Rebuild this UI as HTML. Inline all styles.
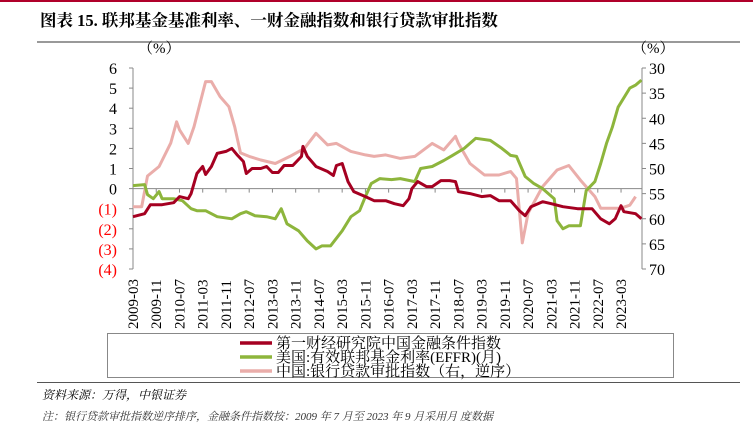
<!DOCTYPE html>
<html><head><meta charset="utf-8"><style>
body{margin:0;width:753px;height:414px;background:#fff;overflow:hidden;position:relative;font-family:"Liberation Serif","Noto Serif CJK SC",serif}
.t{position:absolute;white-space:nowrap}
</style></head><body>
<div style="position:absolute;left:0;top:0;width:753px;height:2px;background:#b0002a"></div>
<div class="t" style="left:40px;top:7px;font-size:16.5px;font-weight:bold;font-family:'Liberation Serif','Noto Serif CJK SC',serif">图表 15. 联邦基金基准利率、一财金融指数和银行贷款审批指数</div>
<div style="position:absolute;left:37px;top:41px;width:703px;height:2px;background:#999"></div>
<svg id="ch" width="753" height="414" style="position:absolute;left:0;top:0"></svg>
<div class="t" style="left:42px;top:386px;font-size:12px;font-style:italic;font-family:'Liberation Serif','Noto Serif CJK SC',serif">资料来源：万得，中银证券</div>
<div class="t" style="left:42px;top:408px;font-size:11px;font-style:italic;color:#333;font-family:'Liberation Serif','Noto Serif CJK SC',serif">注：银行贷款审批指数逆序排序，金融条件指数按：2009 年 7 月至 2023 年 9 月采用月 度数据</div>
<script>
const tickLabels=["2009-03","2009-11","2010-07","2011-03","2011-11","2012-07","2013-03","2013-11","2014-07","2015-03","2015-11","2016-07","2017-03","2017-11","2018-07","2019-03","2019-11","2020-07","2021-03","2021-11","2022-07","2023-03"];
const leftTicks=[6,5,4,3,2,1,0,-1,-2,-3,-4];
const rightTicks=[30,35,40,45,50,55,60,65,70];
// months since 2009-03
const redM=[0,4,6,10,14,16,19,20,22,24,25,27,29,32,34,36,38,39,41,44,46,48,50,52,55,58,58.5,60,63,67,69,70,72,74,76,80,83,86,87,90,93,95,96,98,101,103,106,109,111,112,116,120,123,126,130,133,135,137,141,144,148,153,158,161,164,166,168,169,173,175];
const redV=[-1.4,-1.25,-0.8,-0.8,-0.7,-0.4,-0.5,-0.25,0.75,1.1,0.7,1.1,1.75,1.85,2.0,1.65,1.35,0.75,1.0,1.0,1.1,0.8,0.8,1.15,1.15,1.6,2.1,1.6,1.1,0.85,0.65,1.15,1.25,0.35,-0.15,-0.4,-0.6,-0.6,-0.6,-0.75,-0.85,-0.5,0,0.35,0.1,0.1,0.4,0.4,0.35,-0.15,-0.25,-0.4,-0.35,-0.6,-0.6,-1.1,-1.35,-0.9,-0.65,-0.75,-0.9,-1.0,-1.0,-1.5,-1.75,-1.5,-0.85,-1.15,-1.25,-1.5];
const greenM=[0,4,5,7,9,10,14,17,20,22,25,29,34,37,39,42,46,49,51,53,57,60,63,65,68,72,75,78,80,82,85,89,92,97,99,103,107,110,114,118,123,127,130,132,135,138,141,145,146,148,150,154,156,159,161,163,165,167,171,173,175];
const greenV=[0.15,0.2,-0.3,-0.5,-0.15,-0.5,-0.5,-0.6,-1.0,-1.1,-1.1,-1.4,-1.5,-1.25,-1.15,-1.35,-1.4,-1.5,-1.0,-1.75,-2.1,-2.6,-3.0,-2.85,-2.85,-2.1,-1.4,-1.1,-0.4,0.25,0.5,0.45,0.5,0.35,1.0,1.1,1.4,1.65,2.0,2.5,2.4,2.0,1.65,1.6,0.6,0.25,0.0,-0.5,-1.6,-2.0,-1.85,-1.85,-0.1,0.35,1.25,2.25,3.05,4.05,5.0,5.15,5.4];
const pinkM=[0,3,5,9,13,15,16,19,21,25,27,30,33,35,37,40,44,49,54,59,63,67,70,75,80,83,87,92,97,100,103,107,111,112,116,121,126,130,132,134,136,141,146,150,154,159,161,164,168,171,173];
const pinkV=[57.6,57.6,51.5,49.6,44.9,40.7,42.3,45,41.7,32.7,32.7,35.7,37.7,41.7,46.9,47.6,48.3,49,47.6,46,43,45.3,45,46.6,47.3,47.6,47.3,48,47.6,46.3,45,46.3,43.6,45,49,51.3,51.3,50.6,52,64.8,58.9,53.6,50.3,49.4,52.3,55.6,57.9,57.9,57.9,57.3,55.6];
const X0=133,X1=642,YT=68,YB=269;
const xs=m=>X0+m*2.905;
const yl=v=>YT+(6-v)*(YB-YT)/10;
const yr=v=>YT+(v-30)*(YB-YT)/40;
const svg=document.getElementById('ch');const NS='http://www.w3.org/2000/svg';
function mk(t,a,p){const e=document.createElementNS(NS,t);for(const k in a)e.setAttribute(k,a[k]);(p||svg).appendChild(e);return e;}
let e;
e=mk('line',{x1:X0,y1:YT,x2:X0,y2:YB,stroke:'#888'});
e=mk('line',{x1:X1,y1:YT,x2:X1,y2:YB,stroke:'#888'});
e=mk('line',{x1:X0,y1:yl(0),x2:X1,y2:yl(0),stroke:'#888'});
leftTicks.forEach(v=>{const y=yl(v);mk('line',{x1:X0-4,y1:y,x2:X0,y2:y,stroke:'#888'});
 e=mk('text',{x:117,y:y+6,'text-anchor':'end','font-size':16,fill:v<0?'#f00':'#000'});e.textContent=v<0?'('+(-v)+')':v;
 });
rightTicks.forEach(v=>{const y=yr(v);mk('line',{x1:X1,y1:y,x2:X1+4,y2:y,stroke:'#888'});
 e=mk('text',{x:649,y:y+6,'font-size':16});e.textContent=v;
 });
e=mk('text',{x:138,y:53,'font-size':15});e.textContent='（%）';
e=mk('text',{x:632,y:53,'font-size':15});e.textContent='（%）';
tickLabels.forEach((s,i)=>{const x=xs(i*8);mk('line',{x1:x,y1:yl(0),x2:x,y2:yl(0)+4,stroke:'#888'});
 e=mk('text',{transform:`translate(${x+5},${329}) rotate(-90)`,'font-size':15});e.textContent=s;
 });
function line(M,V,f,c,n){const d=M.map((m,i)=>(i?'L':'M')+xs(m).toFixed(1)+','+f(V[i]).toFixed(1)).join('');
 e=mk('path',{d:d,fill:'none',stroke:c,'stroke-width':3,'stroke-linejoin':'round'});}
line(pinkM,pinkV,yr,'#eaadaa','series-loan-approval');
line(greenM,greenV,yl,'#8db53c','series-effr');
line(redM,redV,yl,'#a50021','series-fci');
e=mk('rect',{x:107.5,y:333.5,width:566,height:44,fill:'none',stroke:'#888'});
[['#a50021','第一财经研究院中国金融条件指数'],['#8db53c','美国:有效联邦基金利率(EFFR)(月)'],['#eaadaa','中国:银行贷款审批指数（右，逆序）']].forEach((l,i)=>{
 const y=343+i*14;mk('line',{x1:240,y1:y,x2:272,y2:y,stroke:l[0],'stroke-width':3.5});
 e=mk('text',{x:276,y:y+5,'font-size':15,'font-family':'Liberation Serif, Noto Serif CJK SC, serif'});e.textContent=l[1];
 });
e=mk('line',{x1:37,y1:382.5,x2:740,y2:382.5,stroke:'#555'});
</script>
</body></html>
